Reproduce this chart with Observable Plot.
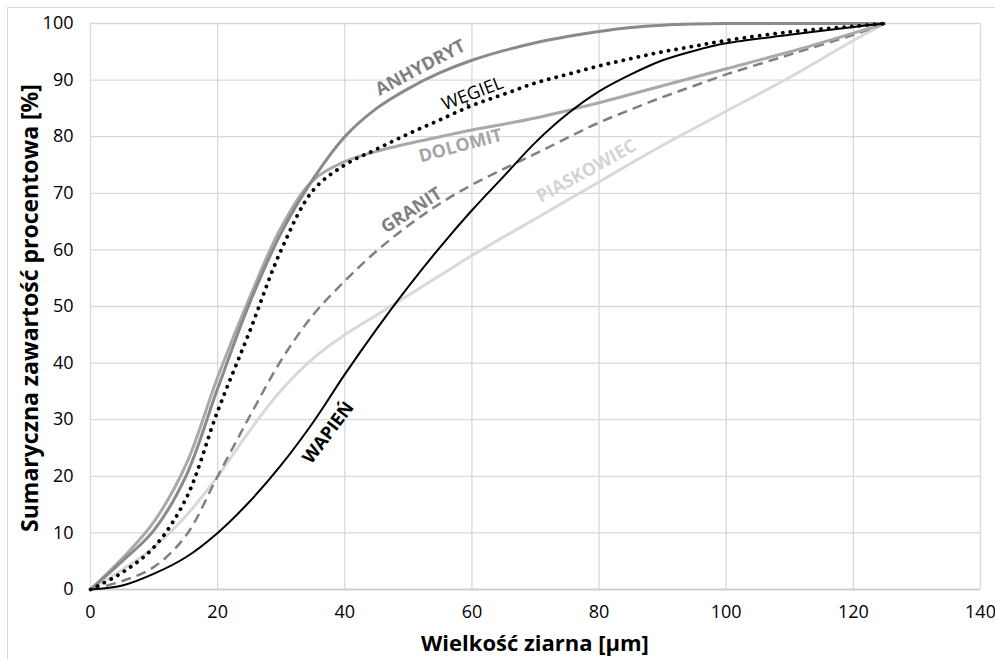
<!DOCTYPE html>
<html>
<head>
<meta charset="utf-8">
<script src="https://cdn.jsdelivr.net/npm/d3@7"></script>
<script src="https://cdn.jsdelivr.net/npm/@observablehq/plot@0.6"></script>
<style>
  html, body { margin: 0; padding: 0; background: #fff; }
  #chart { position: relative; width: 995px; height: 659px; }
</style>
</head>
<body>
<div id="chart"></div>
<script>
// Grain size [µm]
const grain = [0, 5, 10, 15, 20, 25, 30, 35, 40, 45, 50, 55, 60, 65, 70, 75, 80, 85, 90, 95, 100, 110, 120, 125];
// Cumulative content [%]
const anhydryt   = [0, 5, 10.5, 20, 35.5, 50.5, 63, 72.5, 80, 85, 88.5, 91.3, 93.5, 95.2, 96.6, 97.7, 98.6, 99.3, 99.7, 99.9, 100, 100, 100, 100];
const dolomit    = [0, 5.5, 12, 22, 37.5, 51.5, 64, 72.3, 75.6, 77.4, 78.8, 80, 81.2, 82.2, 83.3, 84.6, 86, 87.5, 89, 90.5, 92, 95, 98.3, 100];
const wegiel     = [0, 3, 7.5, 16, 31.5, 45.5, 60, 70.5, 75, 77.8, 80.5, 83, 85.5, 87.5, 89.5, 91, 92.5, 93.8, 95, 96, 97, 98.5, 99.5, 100];
const granit     = [0, 1.5, 4, 9.5, 20, 30.5, 40.5, 48.5, 54.5, 59.8, 64.3, 68.2, 71.5, 74.3, 77, 79.8, 82.5, 84.8, 87, 89, 91, 94.5, 98, 100];
const piaskowiec = [0, 3.5, 7.5, 13, 20, 28, 35.2, 40.8, 45, 48.5, 52, 55.5, 59, 62.3, 65.5, 68.8, 72, 75.3, 78.5, 81.5, 84.5, 90.5, 97, 100];
const wapien     = [0, 0.7, 2.8, 5.7, 10, 15.5, 22, 29.5, 38, 46, 53.5, 60.5, 67, 73, 79, 84, 88, 91, 93.5, 95.2, 96.5, 98, 99.4, 100];

const xTicks = [0, 20, 40, 60, 80, 100, 120, 140];
const yTicks = [0, 10, 20, 30, 40, 50, 60, 70, 80, 90, 100];

// Curve label annotations (data coordinates, rotation in degrees)
const labelNames  = ["ANHYDRYT", "WĘGIEL", "DOLOMIT", "GRANIT", "PIASKOWIEC", "WAPIEŃ"];
const labelX      = [51.9, 60.1, 58.2, 50.5, 78.0, 37.4];
const labelY      = [92.2, 87.6, 78.4, 67.0, 73.9, 27.7];
const labelAngle  = [-28, -21, -15, -33, -29, -53];

const series = [
  {name: "PIASKOWIEC", values: piaskowiec, stroke: "#d9d9d9", width: 3, dash: null, cap: "butt"},
  {name: "GRANIT", values: granit, stroke: "#808080", width: 2.5, dash: "10,6", cap: "butt"},
  {name: "DOLOMIT", values: dolomit, stroke: "#a9a9a9", width: 3, dash: null, cap: "butt"},
  {name: "ANHYDRYT", values: anhydryt, stroke: "#8a8a8a", width: 3, dash: null, cap: "butt"},
  {name: "WĘGIEL", values: wegiel, stroke: "#000000", width: 3.8, dash: "0.1,7.6", cap: "round"},
  {name: "WAPIEŃ", values: wapien, stroke: "#000000", width: 2, dash: null, cap: "butt"}
];
const labelStyle = {
  "ANHYDRYT":   {fill: "#808080", weight: "bold"},
  "WĘGIEL":     {fill: "#000000", weight: "normal"},
  "DOLOMIT":    {fill: "#a6a6a6", weight: "bold"},
  "GRANIT":     {fill: "#7f7f7f", weight: "bold"},
  "PIASKOWIEC": {fill: "#d4d4d4", weight: "bold"},
  "WAPIEŃ":     {fill: "#000000", weight: "bold"}
};

const lineMarks = series.map(s => {
  const rows = grain.map((g, i) => ({x: g, y: s.values[i]}));
  const opts = {x: "x", y: "y", stroke: s.stroke, strokeWidth: s.width, curve: "catmull-rom", strokeLinecap: s.cap};
  if (s.dash) opts.strokeDasharray = s.dash;
  return Plot.line(rows, opts);
});

const labelMarks = labelNames.map((n, i) => Plot.text([{x: labelX[i], y: labelY[i], t: n}], {
  x: "x", y: "y", text: "t", rotate: labelAngle[i], fill: labelStyle[n].fill,
  fontWeight: labelStyle[n].weight, fontSize: 18, textAnchor: "middle", lineAnchor: "middle",
  fontFamily: "'Open Sans', sans-serif"
}));

const plot = Plot.plot({
  width: 995,
  height: 659,
  marginTop: 23,
  marginRight: 15,
  marginBottom: 70,
  marginLeft: 90,
  style: {fontFamily: "'Open Sans', sans-serif", fontSize: "18px", color: "#000", background: "#fff"},
  x: {domain: [0, 140], ticks: xTicks, tickSize: 0, tickPadding: 16, label: null},
  y: {domain: [0, 100], ticks: yTicks, tickSize: 0, tickPadding: 17, label: null},
  marks: [
    Plot.gridX(xTicks, {stroke: "#d9d9d9", strokeOpacity: 1, strokeWidth: 1.3}),
    Plot.gridY(yTicks, {stroke: "#d9d9d9", strokeOpacity: 1, strokeWidth: 1.3}),
    Plot.ruleY([0], {stroke: "#cccccc", strokeWidth: 1.5}),
    Plot.axisX({ticks: xTicks, tickSize: 0, tickPadding: 16, label: null, fontSize: 18}),
    Plot.axisY({ticks: yTicks, tickSize: 0, tickPadding: 17, label: null, fontSize: 18}),
    ...lineMarks,
    ...labelMarks
  ]
});

const svg = d3.select(plot);
svg.insert("rect", ":first-child")
  .attr("x", 7.5).attr("y", 7.5).attr("width", 1000).attr("height", 700)
  .attr("fill", "none").attr("stroke", "#d9d9d9").attr("stroke-width", 1);
svg.append("text")
  .attr("x", 535).attr("y", 651)
  .attr("text-anchor", "middle")
  .attr("font-family", "'Open Sans', sans-serif")
  .attr("font-weight", "bold").attr("font-size", 22).attr("fill", "#000")
  .text("Wielkość ziarna [µm]");
svg.append("text")
  .attr("transform", "translate(38,308) rotate(-90)")
  .attr("text-anchor", "middle")
  .attr("font-family", "'Open Sans', sans-serif")
  .attr("font-weight", "bold").attr("font-size", 23).attr("fill", "#000")
  .text("Sumaryczna zawartość procentowa [%]");

document.getElementById("chart").appendChild(plot);
</script>
</body>
</html>
